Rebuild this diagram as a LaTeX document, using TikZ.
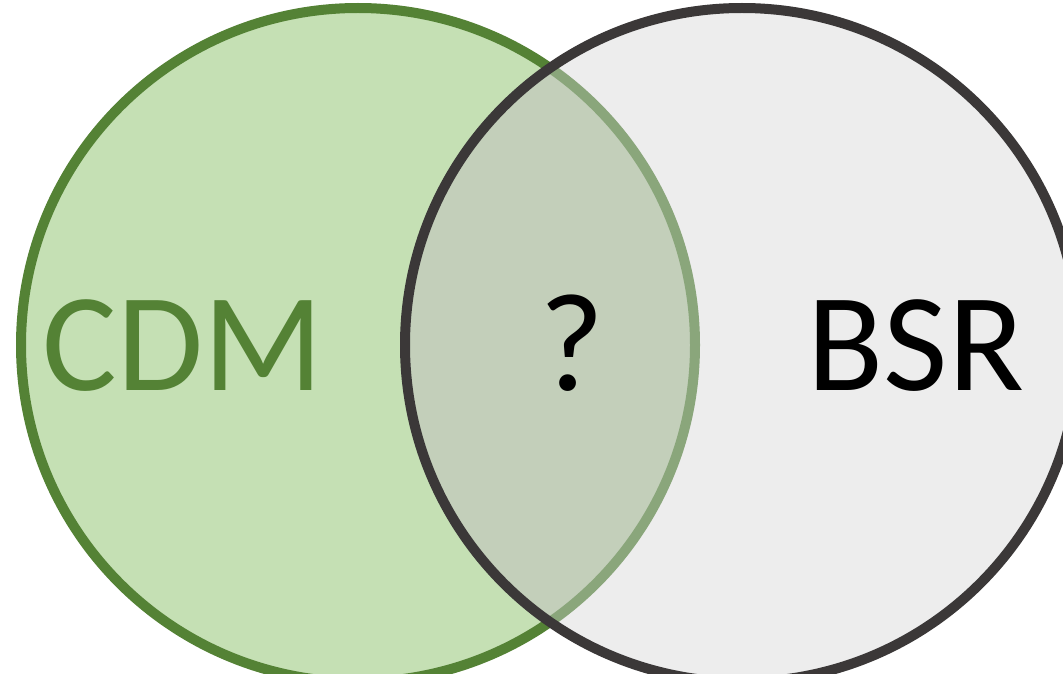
\documentclass[tikz,border=0pt]{standalone}
\usepackage{fontspec}
\setmainfont{Carlito}
\definecolor{gfill}{HTML}{C5E0B4}
\definecolor{gline}{HTML}{548235}
\definecolor{kfill}{HTML}{EDEDED}
\definecolor{kline}{HTML}{3B3838}
\definecolor{ofill}{HTML}{C3CFBA}
\definecolor{oline}{HTML}{8AA67B}
\tikzset{lbl/.style={font=\fontsize{140}{140}\selectfont, inner sep=0pt, anchor=base}}
\begin{document}
\begin{tikzpicture}[x=1pt,y=-1pt]
\useasboundingbox (0,0) rectangle (1063,674);
\clip (0,0) rectangle (1063,674);
\coordinate (gc) at (358,345);
\coordinate (kc) at (742,345);
\fill[gfill] (gc) circle (337);
\draw[gline, line width=10pt] (gc) circle (337);
\fill[kfill] (kc) circle (337);
\begin{scope}
\clip (kc) circle (337);
\fill[ofill] (gc) circle (337);
\draw[oline, line width=10pt] (gc) circle (337);
\end{scope}
\draw[kline, line width=10pt] (kc) circle (337);
\node[lbl, text=gline] (cdm) at (183,390) {CDM};
\node[lbl] (q) at (572,390) {?};
\node[lbl] (bsr) at (916,390) {BSR};
\end{tikzpicture}
\end{document}
